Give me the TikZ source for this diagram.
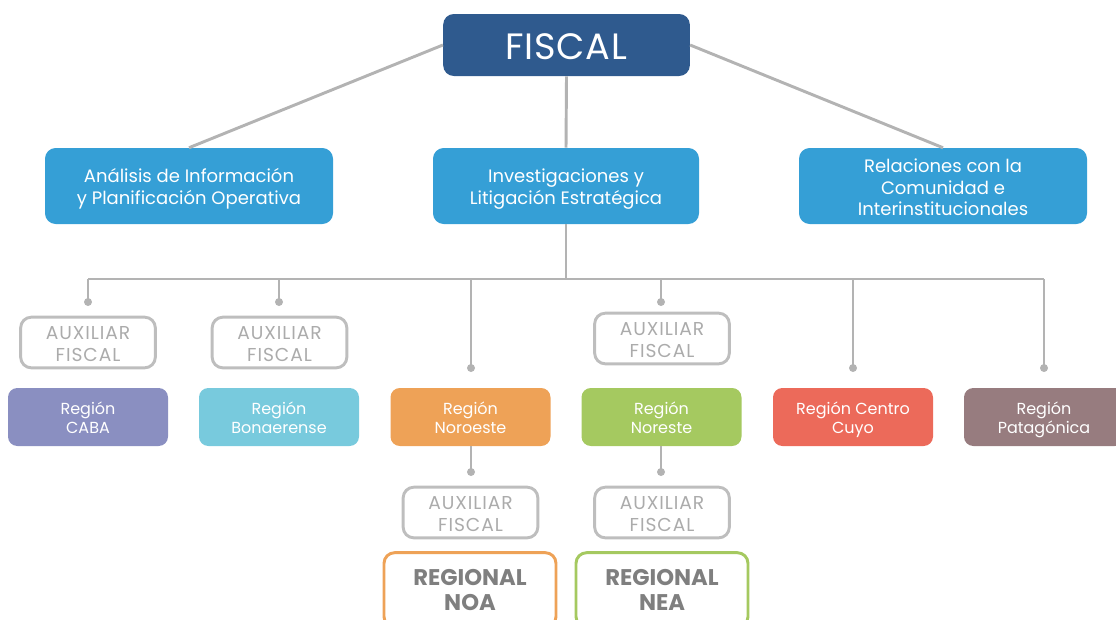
\documentclass[tikz,border=0pt]{standalone}
\usepackage{fontspec}
\setmainfont{Poppins}
\definecolor{navy}{HTML}{2F5A8E}
\definecolor{sky}{HTML}{359FD6}
\definecolor{lnk}{HTML}{B3B3B3}
\definecolor{auxc}{HTML}{ABABAB}
\definecolor{auxb}{HTML}{BEBEBE}
\definecolor{cCABA}{HTML}{8A8FC1}
\definecolor{cBon}{HTML}{78CADD}
\definecolor{cNoro}{HTML}{EEA257}
\definecolor{cNore}{HTML}{A5C960}
\definecolor{cCen}{HTML}{EC6A5A}
\definecolor{cPat}{HTML}{977C7F}
\definecolor{regtxt}{HTML}{7F7F7F}
\begin{document}
\begin{tikzpicture}[x=0.75pt,y=-0.75pt,
  box/.style={rounded corners=8pt,inner sep=0pt,align=center},
  top/.style={box,fill=navy,text=white,minimum width=185pt,minimum height=46.5pt},
  toptxt/.style={text=white,inner sep=0pt,yshift=-1.5pt,font=\fontsize{27.5}{30}\selectfont\addfontfeature{LetterSpace=2}},
  mid/.style={box,fill=sky,minimum height=57pt},
  midtxt/.style={text=white,inner sep=0pt,align=center,yshift=-2.2pt,font=\fontsize{13.5}{16.2}\selectfont},
  aux/.style={box,draw=auxb,line width=2.2pt,minimum width=101pt,minimum height=38pt},
  auxtxt/.style={text=auxc,inner sep=0pt,align=center,yshift=-1.5pt,font=\fontsize{14}{16.5}\selectfont\addfontfeature{LetterSpace=5}},
  reg/.style={box,minimum width=120pt,minimum height=43.5pt,rounded corners=7pt},
  regtxt/.style={text=white,inner sep=0pt,align=center,yshift=-2.3pt,font=\fontsize{12}{14}\selectfont,execute at end node={\vphantom{g}}},
  rgl/.style={box,line width=2.2pt,fill=white,text=regtxt,minimum width=129pt,minimum height=56pt,font=\fontsize{17}{18.5}\selectfont\bfseries},
  link/.style={draw=lnk,line width=2.2pt},
  dot/.style={fill=lnk,circle,inner sep=0pt,minimum size=6pt}]
\useasboundingbox (0,0) rectangle (1116,619);
\begin{scope}
\clip (0,0) rectangle (1116,619);
% nodes
\node[top,label={[toptxt]center:FISCAL}] (fiscal) at (566.5,45) {};
\node[mid,minimum width=216pt,label={[midtxt]center:{Análisis de Información\\y Planificación Operativa}}] (ana) at (189,186) {};
\node[mid,minimum width=199.5pt,label={[midtxt]center:{Investigaciones y\\Litigación Estratégica}}] (inv) at (566,186) {};
\node[mid,minimum width=216pt,label={[midtxt,yshift=1pt]center:{Relaciones con la\\Comunidad e\\Interinstitucionales}}] (rel) at (943,186) {};
\node[aux,label={[auxtxt]center:{AUXILIAR\\FISCAL}}] (aux1) at (88,342.5) {};
\node[aux,label={[auxtxt]center:{AUXILIAR\\FISCAL}}] (aux2) at (279.5,342.5) {};
\node[aux,label={[auxtxt]center:{AUXILIAR\\FISCAL}}] (aux4) at (662,338.5) {};
\node[reg,fill=cCABA,label={[regtxt]center:{Región\\CABA}}] (caba) at (88,417) {};
\node[reg,fill=cBon,label={[regtxt]center:{Región\\Bonaerense}}] (bon) at (279,417) {};
\node[reg,fill=cNoro,label={[regtxt]center:{Región\\Noroeste}}] (noro) at (470.5,417) {};
\node[reg,fill=cNore,label={[regtxt]center:{Región\\Noreste}}] (nore) at (661.5,417) {};
\node[reg,fill=cCen,label={[regtxt]center:{Región Centro\\Cuyo}}] (cen) at (853,417) {};
\node[reg,fill=cPat,label={[regtxt]center:{Región\\Patagónica}}] (pat) at (1044,417) {};
\node[aux,label={[auxtxt]center:{AUXILIAR\\FISCAL}}] (auxnoa) at (470.5,512.5) {};
\node[aux,label={[auxtxt]center:{AUXILIAR\\FISCAL}}] (auxnea) at (662,512.5) {};
\node[rgl,draw=cNoro] (noa) at (470,590) {REGIONAL\\NOA};
\node[rgl,draw=cNore] (nea) at (662,590) {REGIONAL\\NEA};
% coordinates
\coordinate (bar) at (566,279);
\coordinate (b1) at (88,279);
\coordinate (b2) at (279,279);
\coordinate (b3) at (471,279);
\coordinate (b4) at (661,279);
\coordinate (b5) at (853,279);
\coordinate (b6) at (1044,279);
\coordinate (e1) at (88,302);
\coordinate (e2) at (279,302);
\coordinate (e3) at (471,368);
\coordinate (e4) at (661,302);
\coordinate (e5) at (853,368);
\coordinate (e6) at (1044,368);
\coordinate (e7) at (471,472);
\coordinate (e8) at (661,472);
% links
\draw[link] (fiscal.west) -- (ana.north);
\draw[link] (fiscal.east) -- (rel.north);
\draw[link] (fiscal.south) -- (inv.north);
\draw[link] (inv.south) -- (bar);
\draw[link] (b1) -- (b6);
\foreach \i in {1,...,6}{\draw[link] (b\i) -- (e\i); \node[dot] at (e\i) {};}
\draw[link] (noro.south -| e7) -- (e7); \node[dot] at (e7) {};
\draw[link] (nore.south -| e8) -- (e8); \node[dot] at (e8) {};
\end{scope}
\end{tikzpicture}
\end{document}
